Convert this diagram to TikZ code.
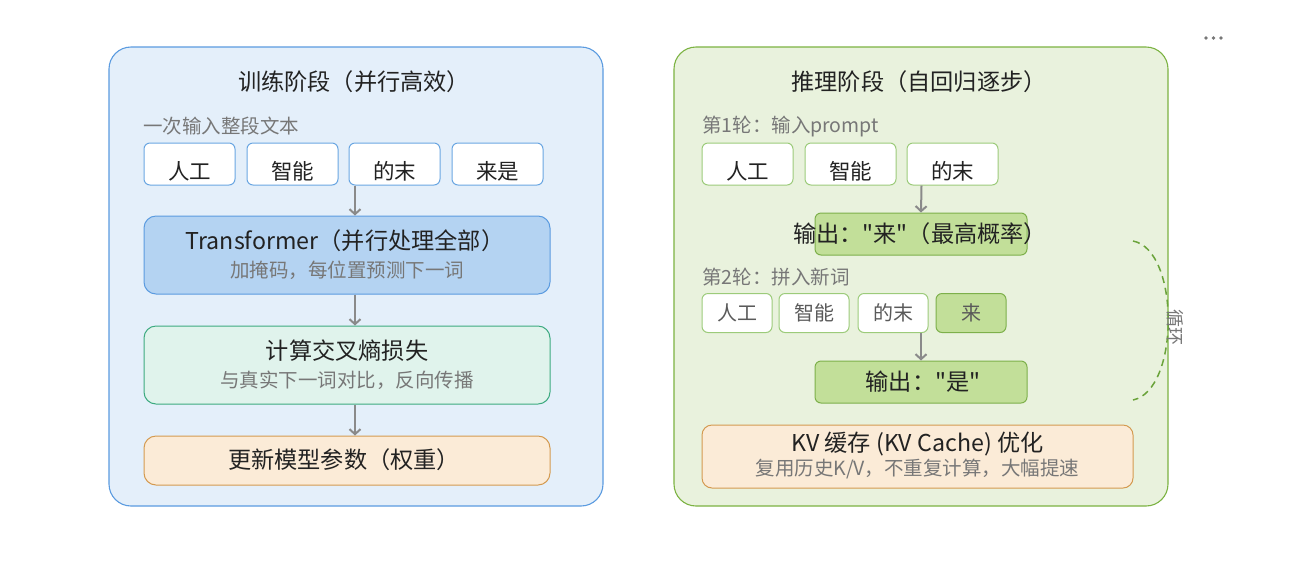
\documentclass[tikz,border=0pt]{standalone}
\usepackage{fontspec}
\setmainfont{Noto Sans CJK SC}
\setmonofont{Noto Sans CJK SC}
\usetikzlibrary{arrows.meta}
\newcommand{\qq}{{\ttfamily"}}
\definecolor{lpfill}{HTML}{E4EFFA}
\definecolor{lpdraw}{HTML}{5B9BE0}
\definecolor{tokblue}{HTML}{6AA6E2}
\definecolor{trfill}{HTML}{B4D3F2}
\definecolor{cefill}{HTML}{E0F3EC}
\definecolor{cedraw}{HTML}{3DAA80}
\definecolor{orfill}{HTML}{FBEBD7}
\definecolor{ordraw}{HTML}{D49A50}
\definecolor{rpfill}{HTML}{E9F2DD}
\definecolor{rpdraw}{HTML}{7CB342}
\definecolor{tokgreen}{HTML}{9CCB7A}
\definecolor{outfill}{HTML}{C2DF99}
\definecolor{outdraw}{HTML}{7DB04A}
\definecolor{maintext}{HTML}{222222}
\definecolor{subtext}{HTML}{777777}
\definecolor{tok2text}{HTML}{5A5A5A}
\definecolor{arrowgray}{HTML}{8A8A8A}
\definecolor{loopgreen}{HTML}{6AA33A}
\begin{document}
\begin{tikzpicture}[x=1pt,y=-1pt,
  panel/.style={draw, line width=1.1, rounded corners=22, inner sep=0},
  box/.style={draw, line width=1, inner sep=0},
  ttl/.style={text=maintext, font=\fontsize{23.2}{27}\selectfont, inner sep=0},
  sub/.style={text=subtext, font=\fontsize{19.5}{23}\selectfont, inner sep=0},
  tokt/.style={text=maintext, font=\fontsize{21.5}{25}\selectfont, inner sep=0},
  tokt2/.style={text=tok2text, font=\fontsize{20}{24}\selectfont, inner sep=0},
  arr/.style={draw=arrowgray, line width=2, -{Straight Barb[length=5,width=11]}},
]
\fill[white] (0,0) rectangle (1300,566);
\useasboundingbox (0,0) rectangle (1300,566);

% menu dots
\fill[subtext] (1206,38) circle (1.8) (1213.5,38) circle (1.8) (1221,38) circle (1.8);

% ===== left panel =====
\node[panel, fill=lpfill, draw=lpdraw, minimum width=494, minimum height=459] (lp) at (356,276.5) {};
\node[ttl] (ltitle) at (354,82) {训练阶段（并行高效）};
\node[sub, anchor=west] (llab) at (143,126) {一次输入整段文本};

\foreach \n/\x/\t in {t1/189.5/人工, t2/292.5/智能, t3/394.5/的末, t4/497.5/来是}{
  \node[box, fill=white, draw=tokblue, rounded corners=6, minimum width=91, minimum height=42] (\n) at (\x,164) {};
  \node[tokt] (\n txt) at ([yshift=-7]\n.center) {\t};
}

\node[box, fill=trfill, draw=lpdraw, rounded corners=12, minimum width=406, minimum height=78] (tr) at (347,255) {};
\node[ttl] (trt) at (345,241) {Transformer（并行处理全部）};
\node[sub] (trs) at (347,270) {加掩码，每位置预测下一词};

\node[box, fill=cefill, draw=cedraw, rounded corners=12, minimum width=406, minimum height=78] (ce) at (347,365) {};
\node[ttl] (cet) at (347,351) {计算交叉熵损失};
\node[sub] (ces) at (347,380) {与真实下一词对比，反向传播};

\node[box, fill=orfill, draw=ordraw, rounded corners=12, minimum width=406, minimum height=49] (up) at (347,460.5) {};
\node[ttl] (upt) at (344,460) {更新模型参数（权重）};

\draw[arr] ([xshift=-39.5]t3.south) -- ([xshift=8]tr.north);
\draw[arr] ([xshift=8]tr.south) -- ([xshift=8]ce.north);
\draw[arr] ([xshift=8]ce.south) -- ([xshift=8]up.north);

% ===== right panel =====
\node[panel, fill=rpfill, draw=rpdraw, minimum width=494, minimum height=459] (rp) at (921,276.5) {};
\node[ttl] (rtitle) at (919,82) {推理阶段（自回归逐步）};
\node[sub, anchor=west] (rlab1) at (702,126) {第1轮：输入prompt};

\foreach \n/\x/\t in {r1/747.5/人工, r2/850.5/智能, r3/952.5/的末}{
  \node[box, fill=white, draw=tokgreen, rounded corners=6, minimum width=91, minimum height=42] (\n) at (\x,164) {};
  \node[tokt] (\n txt) at ([yshift=-7]\n.center) {\t};
}

\node[box, fill=outfill, draw=outdraw, rounded corners=6, minimum width=212, minimum height=42] (o1) at (921,234) {};
\node[ttl] (o1t) at (920,234) {输出：\qq 来\qq（最高概率）};
\draw[arr] ([xshift=-31]r3.south) -- (o1.north);

\node[sub, anchor=west] (rlab2) at (702,277) {第2轮：拼入新词};
\foreach \n/\x/\t in {s1/737/人工, s2/814/智能, s3/893/的末}{
  \node[box, fill=white, draw=tokgreen, rounded corners=6, minimum width=70, minimum height=39] (\n) at (\x,313) {};
  \node[tokt2] (\n txt) at (\n.center) {\t};
}
\node[box, fill=outfill, draw=outdraw, rounded corners=6, minimum width=70, minimum height=39] (s4) at (971,313) {};
\node[tokt2] (s4txt) at (s4.center) {来};

\node[box, fill=outfill, draw=outdraw, rounded corners=6, minimum width=212, minimum height=42] (o2) at (921,382) {};
\node[ttl] (o2t) at (923,382) {输出：\qq 是\qq};
\draw[arr] ([xshift=28]s3.south) -- (o2.north);

\node[box, fill=orfill, draw=ordraw, rounded corners=10, minimum width=431, minimum height=63] (kv) at (917.5,456.5) {};
\node[ttl] (kvt) at (917.5,444) {KV 缓存 (KV Cache) 优化};
\node[sub] (kvs) at (917.5,469) {复用历史K/V，不重复计算，大幅提速};

% loop
\coordinate (la) at (1133,241);
\coordinate (lb) at (1133,400);
\draw[loopgreen, line width=1.5, dash pattern=on 7pt off 5pt] (la) .. controls (1180,250) and (1180,390) .. (lb);
\node[text=subtext, font=\fontsize{18}{20}\selectfont, rotate=-90, inner sep=0] (looplab) at (1175,327) {循环};
\end{tikzpicture}
\end{document}
